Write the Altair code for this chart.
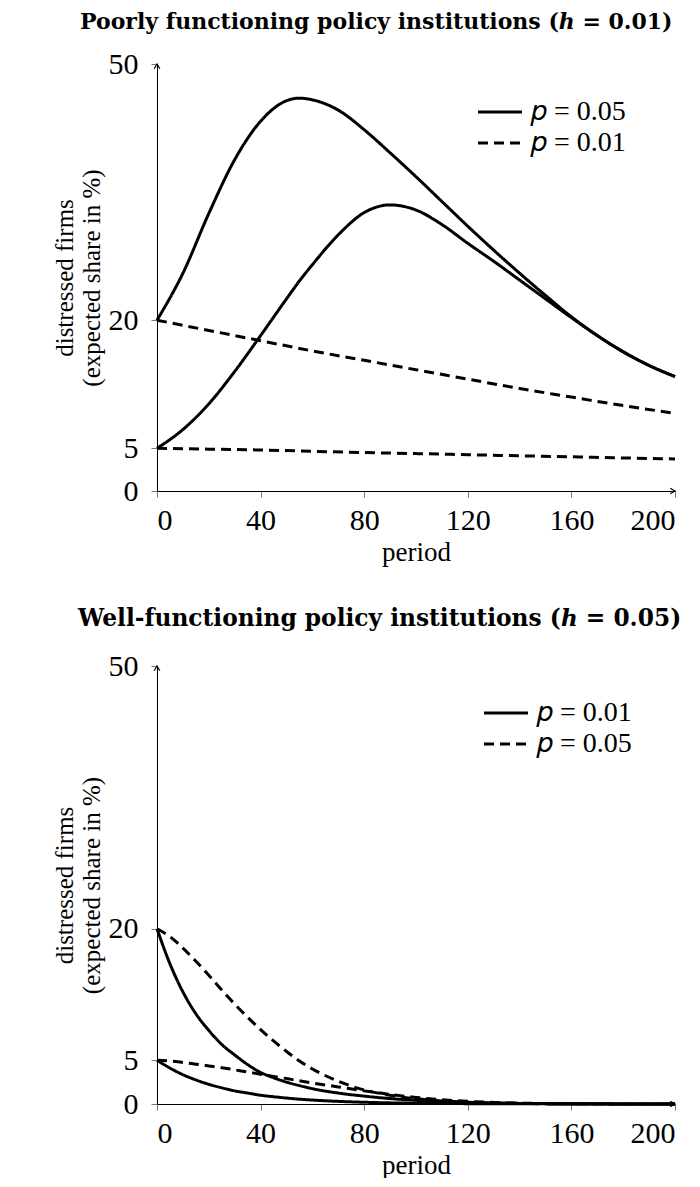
import altair as alt
import pandas as pd

# ---------------- data: top panel (h = 0.01) ----------------
top_t = [0, 10, 20, 30, 40, 50, 55, 60, 70, 80, 90, 100, 110, 120, 130, 140, 150, 160, 170, 180, 190, 200]
top_solid_from20 = [20, 25.5, 32.5, 38.8, 43.3, 45.7, 46.0, 45.8, 44.6, 42.3, 39.6, 36.8, 33.9, 31.0, 28.2, 25.5, 22.9, 20.4, 18.2, 16.3, 14.7, 13.4]
top_solid_from5 = [5, 7.2, 10.2, 14.0, 18.2, 22.5, 24.6, 26.5, 30.0, 32.6, 33.5, 32.9, 31.2, 29.0, 26.9, 24.7, 22.5, 20.3, 18.2, 16.3, 14.7, 13.4]
top_dash_t = [0, 20, 40, 60, 80, 100, 120, 140, 160, 180, 200]
top_dash_from20 = [20, 18.8, 17.6, 16.4, 15.3, 14.2, 13.1, 12.0, 11.0, 10.0, 9.1]
top_dash_from5 = [5, 4.9, 4.8, 4.65, 4.5, 4.38, 4.25, 4.12, 4.0, 3.87, 3.75]
top_labels = ["𝑝 = 0.05", "𝑝 = 0.01"]   # solid, dashed

# ---------------- data: bottom panel (h = 0.05) ----------------
bot_t = [0, 5, 10, 15, 20, 25, 30, 35, 40, 45, 50, 55, 60, 70, 80, 90, 100, 110, 120, 140, 160, 180, 200]
bot_solid_from20 = [20, 16.0, 12.8, 10.3, 8.4, 6.8, 5.6, 4.5, 3.6, 3.0, 2.5, 2.1, 1.75, 1.25, 0.9, 0.62, 0.42, 0.28, 0.18, 0.07, 0.03, 0.01, 0.0]
bot_solid_from5 = [5, 4.1, 3.35, 2.75, 2.25, 1.85, 1.5, 1.25, 1.0, 0.83, 0.68, 0.55, 0.45, 0.3, 0.2, 0.13, 0.09, 0.06, 0.04, 0.02, 0.01, 0.0, 0.0]
bot_dash_from20 = [20, 19.1, 17.8, 16.3, 14.7, 13.0, 11.4, 9.9, 8.5, 7.2, 6.0, 4.9, 4.0, 2.6, 1.6, 1.0, 0.6, 0.35, 0.2, 0.06, 0.02, 0.0, 0.0]
bot_dash_from5 = [5, 4.9, 4.75, 4.55, 4.35, 4.15, 3.9, 3.65, 3.4, 3.15, 2.9, 2.65, 2.4, 1.95, 1.5, 1.1, 0.75, 0.48, 0.3, 0.1, 0.03, 0.01, 0.0]
bot_labels = ["𝑝 = 0.01", "𝑝 = 0.05"]   # solid, dashed

x_ticks = [0, 40, 80, 120, 160, 200]
y_ticks = [0, 5, 20, 50]

FONT = "Liberation Serif"
TITLE_FONT = "DejaVu Serif"


def curve(name, label, ts, vs):
    return pd.DataFrame({"period": ts, "share": vs, "curve": name, "label": label})


top_df = pd.concat([
    curve("a", top_labels[0], top_t, top_solid_from20),
    curve("b", top_labels[0], top_t, top_solid_from5),
    curve("c", top_labels[1], top_dash_t, top_dash_from20),
    curve("d", top_labels[1], top_dash_t, top_dash_from5),
])
bot_df = pd.concat([
    curve("a", bot_labels[0], bot_t, bot_solid_from20),
    curve("b", bot_labels[0], bot_t, bot_solid_from5),
    curve("c", bot_labels[1], bot_t, bot_dash_from20),
    curve("d", bot_labels[1], bot_t, bot_dash_from5),
])

arrow_x = pd.DataFrame({"period": [200], "share": [0]})
arrow_y = pd.DataFrame({"period": [0], "share": [50]})


def panel(df, labels, title, w, h, lx, ly, toff, tdx, tsize):
    xenc = alt.X("period:Q", scale=alt.Scale(domain=[0, 200], nice=False, zero=False),
                 axis=alt.Axis(values=x_ticks, title="period", format="d"))
    yenc = alt.Y("share:Q", scale=alt.Scale(domain=[0, 50], nice=False),
                 axis=alt.Axis(values=y_ticks, title=["distressed firms", "(expected share in %)"], format="d"))
    lines = alt.Chart(df).mark_line(color="black", strokeWidth=3, interpolate="monotone").encode(
        x=xenc, y=yenc,
        strokeDash=alt.StrokeDash("label:N",
                                  scale=alt.Scale(domain=labels, range=[[1, 0], [10, 6]]),
                                  legend=alt.Legend(title=None, orient="none", legendX=lx, legendY=ly,
                                                    symbolType="M -2 0 L 2 0", symbolStrokeWidth=3,
                                                    symbolSize=484, symbolStrokeColor="black",
                                                    symbolFillColor="transparent",
                                                    labelFont=FONT, labelFontSize=28, labelColor="black",
                                                    labelOffset=17, rowPadding=3, padding=0)),
        detail="curve:N",
    )
    ax = alt.Chart(arrow_x).mark_point(shape="M -1 -0.6 L 0 0 L -1 0.6", filled=False, color="black",
                                       strokeWidth=1.2, size=90, opacity=1).encode(x="period:Q", y="share:Q")
    ay = alt.Chart(arrow_y).mark_point(shape="M -0.6 1 L 0 0 L 0.6 1", filled=False, color="black",
                                       strokeWidth=1.2, size=90, opacity=1).encode(x="period:Q", y="share:Q")
    return alt.layer(lines, ax, ay).properties(
        width=w, height=h,
        title=alt.TitleParams(title, font=TITLE_FONT, fontSize=tsize, fontWeight="bold", anchor="start",
                              frame="group", dx=tdx, offset=toff, color="black"),
    )


top = panel(top_df, top_labels, "Poorly functioning policy institutions (ℎ = 0.01)", 518, 427, 329, 34, 15, -77, 22)
bot = panel(bot_df, bot_labels, "Well-functioning policy institutions (ℎ = 0.05)", 518, 438, 335, 33, 20, -79, 23.3)

chart = alt.vconcat(top, bot, spacing=41).resolve_scale(strokeDash="independent").configure_view(
    stroke=None
).configure_axis(
    grid=False, domainColor="black", domainWidth=1, tickColor="#777", tickSize=6, tickWidth=1,
    labelFont=FONT, labelFontSize=30, labelColor="black", titleFont=FONT, titleFontSize=25,
    titleFontWeight="normal", titleColor="black", labelPadding=8,
).configure_axisX(titlePadding=4, titleFontSize=27).configure_axisY(labelPadding=13, titlePadding=4, titleLineHeight=27).properties(
    padding={"left": 44, "top": 3, "right": 0, "bottom": 0}
)

chart.save("out.html", embed_options={"renderer": "svg", "actions": False})
